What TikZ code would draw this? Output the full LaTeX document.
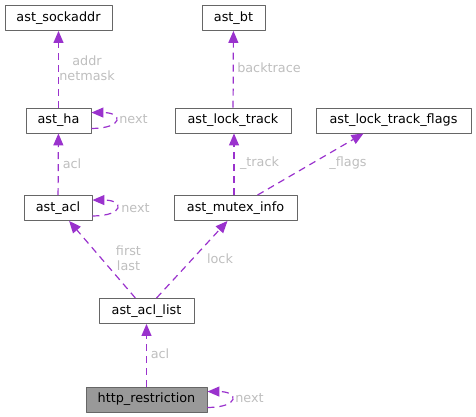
\documentclass[tikz,border=0pt]{standalone}
\usepackage{fontspec}
\setmainfont{DejaVu Sans}
\usetikzlibrary{arrows.meta}
\definecolor{edgepurple}{HTML}{9A32CD}
\definecolor{boxgray}{HTML}{666666}
\definecolor{labelgray}{HTML}{BEBEBE}
\definecolor{mainfill}{HTML}{999999}

\begin{document}
\begin{tikzpicture}[line cap=butt,line join=round,>={Triangle[length=12pt,width=10pt]},x=1pt,y=-1pt,
  every node/.style={font=\fontsize{12.8}{15}\selectfont},
  cls/.style={draw=boxgray,line width=0.9pt,fill=white,minimum height=25pt,inner sep=0pt},
  mainbox/.style={cls,fill=mainfill},
  uses/.style={->,color=edgepurple,line width=1.2pt,dash pattern=on 7pt off 5pt},
  lbl/.style={text=labelgray,align=center,inner sep=0pt}]
\useasboundingbox (0,0) rectangle (476,417);
\node[cls,minimum width=107pt] (sockaddr) at (58.5,18) {ast\_sockaddr};
\node[cls,minimum width=63pt] (bt) at (233.5,18) {ast\_bt};
\node[cls,minimum width=65pt] (ha) at (58.5,120.5) {ast\_ha};
\node[cls,minimum width=116pt] (locktrack) at (233,120.5) {ast\_lock\_track};
\node[cls,minimum width=155pt] (trackflags) at (393.5,120.5) {ast\_lock\_track\_flags};
\node[cls,minimum width=68pt] (acl) at (58,208) {ast\_acl};
\node[cls,minimum width=123pt] (mutexinfo) at (235.5,208) {ast\_mutex\_info};
\node[cls,minimum width=95pt] (acllist) at (146.5,311) {ast\_acl\_list};
\node[mainbox,minimum width=121pt] (httprestr) at (146.5,399.5) {http\_restriction};
% edges
\draw[uses] (ha) -- (sockaddr);
\draw[uses] ([yshift=5pt]ha.south east) .. controls +(32,0) and +(32,0) .. ([yshift=-5pt]ha.north east);
\draw[uses] (acl) -- (ha);
\draw[uses] ([yshift=5pt]acl.south east) .. controls +(32,0) and +(32,0) .. ([yshift=-5pt]acl.north east);
\draw[uses] (locktrack) -- (bt);
\draw[uses] ([xshift=1pt]locktrack.south |- mutexinfo.north) -- ([xshift=1pt]locktrack.south);
\draw[uses] ([xshift=22pt]mutexinfo.north) -- ([xshift=-30pt]trackflags.south);
\draw[uses] (acllist) -- (acl);
\draw[uses] ([xshift=10pt]acllist.north) -- ([xshift=-8pt]mutexinfo.south);
\draw[uses] (httprestr) -- (acllist);
\draw[uses] ([yshift=5pt]httprestr.south east) .. controls +(32,0) and +(32,0) .. ([yshift=-5pt]httprestr.north east);
% labels
\node[lbl] (lbladdr) at (87,68.5) {addr\\netmask};
\node[lbl] (lblnexta) at (133.5,119) {next};
\node[lbl] (lblacla) at (72,164) {acl};
\node[lbl] (lblnextb) at (135.5,208) {next};
\node[lbl] (lblbt) at (269,68) {backtrace};
\node[lbl] (lbltrack) at (259.5,163) {\_track};
\node[lbl] (lblflags) at (348,163) {\_flags};
\node[lbl] (lblfirst) at (128.5,258.5) {first\\last};
\node[lbl] (lbllock) at (220,259) {lock};
\node[lbl] (lblaclb) at (160,354) {acl};
\node[lbl] (lblnextc) at (249.5,398) {next};
\end{tikzpicture}
\end{document}
